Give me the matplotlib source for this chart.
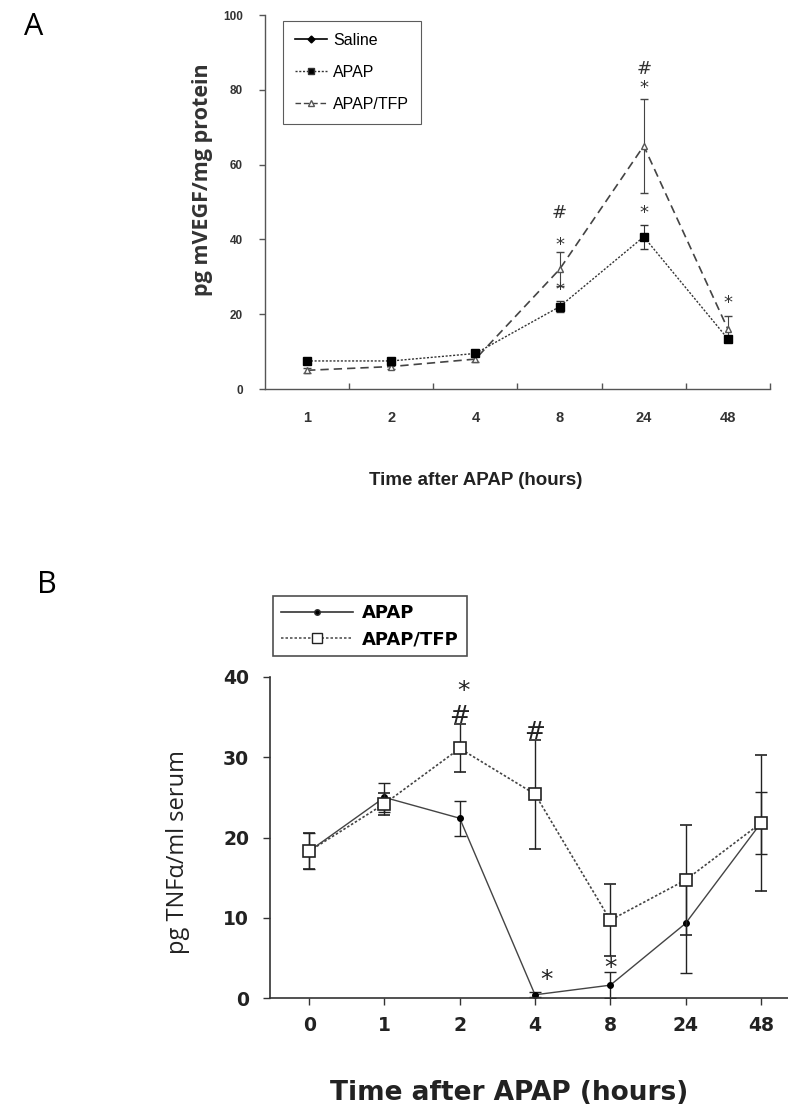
import matplotlib
matplotlib.use('Agg')
import matplotlib.pyplot as plt
from matplotlib.lines import Line2D
from matplotlib.ticker import FixedLocator

# ---------------- data ----------------
a_times = ['1', '2', '4', '8', '24', '48']
a_apap = [7.5, 7.5, 9.5, 22.0, 40.7, 13.4]
a_apap_err = [0.8, 0.8, 0.8, 1.5, 3.2, 0.8]
a_tfp = [5.0, 6.0, 8.0, 32.0, 65.0, 16.0]
a_tfp_err = [0.6, 0.6, 0.8, 4.5, 12.5, 3.5]
a_yticks = [0, 20, 40, 60, 80, 100]
# significance marks: (category index, y value, symbol)
a_marks = [(3, 26.5, '*'), (3, 38.5, '*'), (3, 47.0, '#'),
           (4, 47.0, '*'), (4, 80.5, '*'), (4, 85.5, '#'), (5, 23.0, '*')]

b_times = ['0', '1', '2', '4', '8', '24', '48']
b_apap = [18.3, 25.0, 22.4, 0.4, 1.6, 9.3, 21.8]
b_apap_err = [2.2, 1.8, 2.2, 0.3, 1.6, 6.2, 3.9]
b_tfp = [18.3, 24.2, 31.1, 25.4, 9.7, 14.7, 21.8]
b_tfp_err = [2.2, 1.4, 3.0, 6.8, 4.5, 6.8, 8.5]
b_yticks = [0, 10, 20, 30, 40]
b_marks = [(2.05, 38.2, '*'), (2.0, 35.2, '#'), (3.0, 33.2, '#'),
           (3.15, 2.2, '*'), (4.0, 3.8, '*')]

# ---------------- figure ----------------
fig = plt.figure(figsize=(7.88, 11.11), dpi=100)

# ===== Panel A =====
axA = fig.add_axes([265/788, 1-389/1111, (770-265)/788, (389-15)/1111])
xa = list(range(len(a_times)))
axA.errorbar(xa, a_apap, yerr=a_apap_err, color='#333333', ls=(0, (1.5, 1.2)), lw=1.0,
             marker='s', ms=5.5, mfc='black', mec='black', capsize=3, elinewidth=0.8,
             ecolor='#333333', zorder=3)
axA.errorbar(xa, a_tfp, yerr=a_tfp_err, color='#444444', ls=(0, (5, 3)), lw=1.2,
             marker='^', ms=5, mfc='white', mec='#555555', capsize=3, elinewidth=0.8,
             ecolor='#444444', zorder=2)
for i, yv, s in a_marks:
    axA.text(i, yv, s, ha='center', va='center', fontsize=13, color='#333333',
             family='DejaVu Sans')
axA.set_xlim(-0.5, len(a_times) - 0.5)
axA.set_ylim(0, 100)
axA.set_yticks(a_yticks)
axA.set_yticklabels([str(v) for v in a_yticks], fontsize=8.5, fontweight='bold',
                    family='Liberation Sans', color='#333333')
axA.set_xticks(xa)
axA.set_xticklabels(a_times, fontsize=10.5, fontweight='bold', family='Liberation Sans',
                    color='#333333')
axA.tick_params(axis='x', which='major', length=0, pad=16)
axA.xaxis.set_minor_locator(FixedLocator([i + 0.5 for i in xa]))
axA.tick_params(axis='x', which='minor', length=4, width=1, color='#555555', direction='in')
axA.tick_params(axis='y', length=4, width=1, color='#555555', pad=12)
for sp in ['top', 'right']:
    axA.spines[sp].set_visible(False)
for sp in ['left', 'bottom']:
    axA.spines[sp].set_color('#555555')
    axA.spines[sp].set_linewidth(1.0)
axA.set_ylabel('pg mVEGF/mg protein', fontsize=15.5, fontweight='bold',
               family='Open Sans', color='#333333')
axA.yaxis.set_label_coords(-(265-213)/505, (389-180)/374)
axA.set_xlabel('Time after APAP (hours)', fontsize=13.5, fontweight='bold',
               family='Liberation Sans', color='#222222')
axA.xaxis.set_label_coords((476-265)/505, -(472-389)/374)
handlesA = [
    Line2D([], [], color='black', lw=1.2, marker='D', ms=3.5, mfc='black'),
    Line2D([], [], color='#333333', ls=(0, (1.5, 1.2)), lw=1.0, marker='s', ms=5, mfc='black'),
    Line2D([], [], color='#444444', ls=(0, (4, 2)), lw=1.0, marker='^', ms=4, mfc='white',
           mec='#555555'),
]
legA = axA.legend(handlesA, ['Saline', 'APAP', 'APAP/TFP'], loc='upper left',
                  bbox_to_anchor=((283-265)/505, (389-21)/374), borderaxespad=0,
                  frameon=True, fancybox=False,
                  edgecolor='#333333', handlelength=2.0, labelspacing=1.05,
                  handletextpad=0.4,
                  prop={'family': 'Liberation Sans', 'size': 11.5},
                  borderpad=0.75)
legA.get_frame().set_linewidth(0.8)
fig.text(24/788, 1-27/1111, 'A', fontsize=22, family='Open Sans', va='center', ha='left')

# ===== Panel B =====
axB = fig.add_axes([270/788, 1-998/1111, (788-270)/788, (998-677)/1111])
xb = list(range(len(b_times)))
axB.errorbar(xb, b_apap, yerr=b_apap_err, color='#444444', ls='-', lw=1.0,
             marker='o', ms=4, mfc='black', mec='black', capsize=4, elinewidth=1.0,
             ecolor='#222222', zorder=2)
axB.errorbar(xb, b_tfp, yerr=b_tfp_err, color='#444444', ls=(0, (1.5, 1.2)), lw=1.2,
             marker='s', ms=9, mfc='white', mec='#222222', mew=1.2, capsize=4,
             elinewidth=1.0, ecolor='#222222', zorder=3)
for i, yv, s in b_marks:
    axB.text(i, yv, s, ha='center', va='center', fontsize=18, color='#222222',
             family='DejaVu Sans')
axB.set_xlim(-0.52, 6.36)
axB.set_ylim(0, 40)
axB.set_yticks(b_yticks)
axB.set_yticklabels([str(v) for v in b_yticks], fontsize=13.5, fontweight='bold',
                    family='DejaVu Sans', color='#222222')
axB.set_xticks(xb)
axB.set_xticklabels(b_times, fontsize=13.5, fontweight='bold', family='DejaVu Sans',
                    color='#222222')
axB.tick_params(axis='x', length=5, width=1, color='#333333', pad=8)
axB.tick_params(axis='y', length=5, width=1, color='#333333', pad=10)
for sp in ['top', 'right']:
    axB.spines[sp].set_visible(False)
for sp in ['left', 'bottom']:
    axB.spines[sp].set_color('#333333')
    axB.spines[sp].set_linewidth(1.2)
axB.set_ylabel('pg TNF\u03b1/ml serum', fontsize=17, family='Open Sans',
               color='#222222')
axB.yaxis.set_label_coords(-(270-190)/518, (998-852)/321)
axB.set_xlabel('Time after APAP (hours)', fontsize=19, fontweight='bold',
               family='DejaVu Sans', color='#222222')
axB.xaxis.set_label_coords((509-270)/518, -(1080-998)/321)
handlesB = [
    Line2D([], [], color='#333333', lw=1.2, marker='o', ms=4, mfc='black'),
    Line2D([], [], color='#555555', ls=(0, (1.5, 1.2)), lw=1.2, marker='s', ms=7,
           mfc='white', mec='#222222'),
]
legB = axB.legend(handlesB, ['APAP', 'APAP/TFP'], loc='upper left',
                  bbox_to_anchor=((273-270)/518, (998-596)/321), borderaxespad=0,
                  frameon=True, fancybox=False,
                  edgecolor='#222222', handlelength=4.0, labelspacing=0.45,
                  handletextpad=0.5,
                  prop={'family': 'DejaVu Sans', 'weight': 'bold', 'size': 13},
                  borderpad=0.45)
legB.get_frame().set_linewidth(1.2)
fig.text(37/788, 1-585/1111, 'B', fontsize=22, family='Open Sans', va='center', ha='left')

fig.savefig('out.png', dpi=100)
